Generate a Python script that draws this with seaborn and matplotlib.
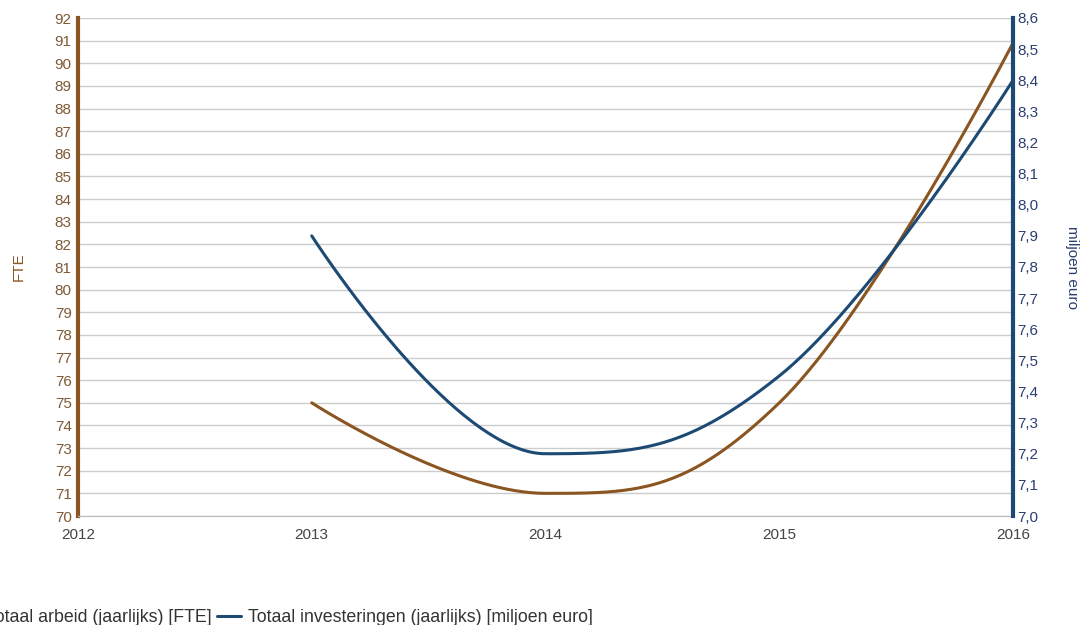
import numpy as np
import pandas as pd
import matplotlib
matplotlib.use("Agg")
import matplotlib.pyplot as plt
from matplotlib.ticker import FuncFormatter, MultipleLocator
import seaborn as sns

# data
years = [2013, 2014, 2015, 2016]
fte = [75.0, 71.0, 75.0, 90.9]
invest = [7.9, 7.2, 7.45, 8.4]
label_fte = "Totaal arbeid (jaarlijks) [FTE]"
label_inv = "Totaal investeringen (jaarlijks) [miljoen euro]"

BROWN = "#8a5520"
BLUE = "#1d4a74"


def spline(xp, yp, smoothing=1.5, n=80):
    # bezier spline through the points, flat at local extremes (drawing only)
    k = len(xp)
    left = [(x, y) for x, y in zip(xp, yp)]
    right = [(x, y) for x, y in zip(xp, yp)]
    denom = smoothing + 1
    for i in range(1, k - 1):
        px, py = xp[i], yp[i]
        lx, ly = xp[i - 1], yp[i - 1]
        nx, ny = xp[i + 1], yp[i + 1]
        lcx = (smoothing * px + lx) / denom
        lcy = (smoothing * py + ly) / denom
        rcx = (smoothing * px + nx) / denom
        rcy = (smoothing * py + ny) / denom
        corr = (rcy - lcy) * (rcx - px) / (rcx - lcx) + py - rcy
        lcy += corr
        rcy += corr
        if lcy > ly and lcy > py:
            lcy = max(ly, py)
            rcy = 2 * py - lcy
        elif lcy < ly and lcy < py:
            lcy = min(ly, py)
            rcy = 2 * py - lcy
        if rcy > ny and rcy > py:
            rcy = max(ny, py)
            lcy = 2 * py - rcy
        elif rcy < ny and rcy < py:
            rcy = min(ny, py)
            lcy = 2 * py - rcy
        left[i] = (lcx, lcy)
        right[i] = (rcx, rcy)
    xs, ys = [xp[0]], [yp[0]]
    t = np.linspace(0, 1, n)[1:]
    for i in range(1, k):
        p0 = np.array([xp[i - 1], yp[i - 1]])
        p1 = np.array(right[i - 1])
        p2 = np.array(left[i])
        p3 = np.array([xp[i], yp[i]])
        pts = (np.outer((1 - t) ** 3, p0) + np.outer(3 * (1 - t) ** 2 * t, p1)
               + np.outer(3 * (1 - t) * t ** 2, p2) + np.outer(t ** 3, p3))
        xs.extend(pts[:, 0])
        ys.extend(pts[:, 1])
    return np.array(xs), np.array(ys)


fx, fy = spline(years, fte)
ix, iy = spline(years, invest)
curve_fte = pd.DataFrame({"jaar": fx, "waarde": fy})
curve_inv = pd.DataFrame({"jaar": ix, "waarde": iy})

sns.set_style("white")
plt.rcParams["font.family"] = ["Liberation Sans", "DejaVu Sans"]

fig = plt.figure(figsize=(10.83, 6.25), dpi=100)
ax = fig.add_axes([0.072, 0.1744, 0.8634, 0.7968])
ax2 = ax.twinx()

sns.lineplot(data=curve_fte, x="jaar", y="waarde", ax=ax, color=BROWN, linewidth=2.2,
             sort=False, estimator=None, label=label_fte, legend=False)
sns.lineplot(data=curve_inv, x="jaar", y="waarde", ax=ax2, color=BLUE, linewidth=2.2,
             sort=False, estimator=None, label=label_inv, legend=False)

ax.set_xlim(2012, 2016)
ax.set_ylim(70, 92)
ax2.set_ylim(7.0, 8.6)
ax.set_xticks([2012, 2013, 2014, 2015, 2016])
ax.yaxis.set_major_locator(MultipleLocator(1))
ax2.yaxis.set_major_locator(MultipleLocator(0.1))
ax2.yaxis.set_major_formatter(FuncFormatter(lambda v, p: f"{v:.1f}".replace(".", ",")))

ax.grid(axis="y", color="#cccccc", linewidth=1)
ax.grid(axis="x", visible=False)
ax.set_axisbelow(True)

ax.tick_params(axis="y", labelsize=11, labelcolor="#7d5a35", length=0, pad=4.5)
ax.tick_params(axis="x", labelsize=11, labelcolor="#444444", length=0, pad=8.5)
ax2.tick_params(axis="y", labelsize=11, labelcolor="#2b3f70", length=0, pad=3)

ax.spines["top"].set_visible(False)
ax2.spines["top"].set_visible(False)
ax.spines["bottom"].set_color("#bbbbbb")
ax2.spines["bottom"].set_visible(False)
ax.spines["right"].set_visible(False)
ax2.spines["left"].set_visible(False)
ax.spines["left"].set_color(BROWN)
ax.spines["left"].set_linewidth(3)
ax2.spines["right"].set_color(BLUE)
ax2.spines["right"].set_linewidth(3)

ax.set_xlabel("")
ax.set_ylabel("FTE", color=BROWN, fontsize=11, labelpad=21)
ax2.set_ylabel("miljoen euro", color="#2b3f70", fontsize=11, rotation=-90, labelpad=29)

h1, l1 = ax.get_legend_handles_labels()
h2, l2 = ax2.get_legend_handles_labels()
leg = fig.legend(h1 + h2, l1 + l2, loc="center left", bbox_to_anchor=(0.0, 0.02), ncol=2,
                 frameon=False, fontsize=12.8, handlelength=1.3, handletextpad=0.42,
                 columnspacing=0.3, labelcolor="#333333")

# shift the legend so it sits where the reference has it (partly cut at the left)
fig.canvas.draw()
bb = leg.get_texts()[1].get_window_extent()
dx = 248 - bb.x0
dy = (625 - 618) - (bb.y0 + bb.y1) / 2
leg.set_bbox_to_anchor((dx / 1083, 0.02 + dy / 625), transform=fig.transFigure)

fig.savefig("out.png", dpi=100)
